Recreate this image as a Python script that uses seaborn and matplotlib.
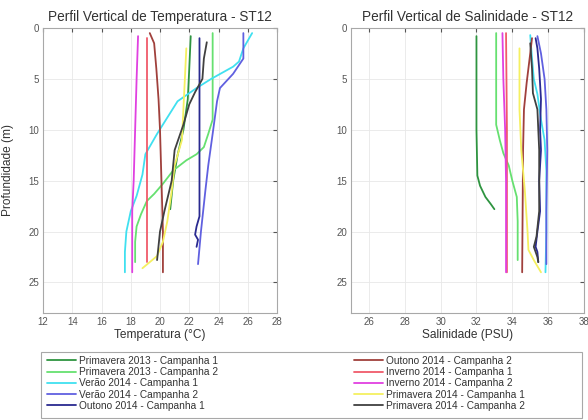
import numpy as np
import pandas as pd
import matplotlib
matplotlib.use('Agg')
import matplotlib.pyplot as plt
from matplotlib.lines import Line2D
from matplotlib.patches import Rectangle
import seaborn as sns

campanhas = ['Primavera 2013 - Campanha 1', 'Primavera 2013 - Campanha 2',
             'Verão 2014 - Campanha 1', 'Verão 2014 - Campanha 2',
             'Outono 2014 - Campanha 1', 'Outono 2014 - Campanha 2',
             'Inverno 2014 - Campanha 1', 'Inverno 2014 - Campanha 2',
             'Primavera 2014 - Campanha 1', 'Primavera 2014 - Campanha 2']
cores = ['#2e9440', '#66e070', '#40e0f0', '#6060e0', '#2a2a90',
         '#a0403c', '#f05a6a', '#e040e0', '#f5f060', '#404040']

# temperatura: profundidade (m) e valores (°C) por campanha
temp_z = [
    [0.8, 4, 7, 10, 12.5, 15, 17.8],
    [0.5, 9, 10.4, 11.7, 12.4, 13, 14, 15.3, 16.3, 17, 18.3, 19.5, 21, 23],
    [0.5, 2, 3.3, 3.8, 5, 5.9, 7.2, 10.4, 12.4, 14.4, 16.5, 18, 20, 22, 24],
    [0.5, 3, 4.5, 5.9, 7.2, 10.4, 13.5, 16, 20, 23.2],
    [1, 10, 18.5, 19.5, 20.3, 20.8, 21.5],
    [0.5, 1.5, 4, 7, 10, 15, 20, 24],
    [1, 10, 23],
    [0.8, 5, 10, 15, 18, 24],
    [2, 5, 8, 11, 13.5, 16, 19, 21, 22.4, 23, 23.6],
    [1.4, 3, 5, 6.3, 7.5, 9.5, 12, 15, 18, 20, 22.8],
]
temp_v = [
    [22.1, 22.0, 21.9, 21.6, 21.2, 20.9, 20.7],
    [23.6, 23.6, 23.3, 23.0, 22.5, 21.8, 20.9, 20.2, 19.6, 19.1, 18.7, 18.4, 18.3, 18.3],
    [26.3, 25.7, 25.4, 25.0, 23.5, 22.5, 21.2, 19.8, 19.0, 18.8, 18.4, 18.0, 17.7, 17.6, 17.6],
    [25.7, 25.7, 25.0, 24.1, 23.9, 23.6, 23.3, 23.1, 22.8, 22.6],
    [22.7, 22.7, 22.7, 22.5, 22.4, 22.6, 22.5],
    [19.3, 19.6, 19.75, 19.9, 20.0, 20.1, 20.2, 20.2],
    [19.1, 19.1, 19.1],
    [18.5, 18.4, 18.3, 18.2, 18.1, 18.1],
    [21.8, 21.7, 21.6, 21.5, 21.0, 20.8, 20.5, 20.2, 19.8, 19.3, 18.8],
    [23.2, 23.0, 22.9, 22.4, 22.0, 21.6, 21.0, 20.8, 20.3, 20.0, 19.8],
]

# salinidade: profundidade (m) e valores (PSU) por campanha
sal_z = [
    [0.8, 10, 14.5, 15.5, 16.6, 17.3, 17.8],
    [0.5, 9.5, 11, 12.3, 13.5, 15, 16.6, 19, 22.8],
    [0.7, 3, 5, 6.5, 9, 11, 14, 20, 24],
    [0.8, 2.5, 5, 8, 12, 18, 23.2],
    [1, 2, 4, 7, 10, 12, 15, 18, 20, 21.5, 22, 23],
    [1, 2.5, 5.4, 8, 12, 24],
    [0.5, 10, 24],
    [0.5, 5, 10, 15, 24],
    [2, 8, 12, 16, 20, 21.8, 22.8, 24],
    [1.5, 4, 6.4, 8, 12, 18, 20.5, 21.5, 22.5, 23],
]
sal_v = [
    [32.0, 32.0, 32.05, 32.2, 32.5, 32.8, 33.0],
    [33.1, 33.1, 33.3, 33.5, 33.8, 34.0, 34.25, 34.3, 34.3],
    [35.0, 35.1, 35.2, 35.4, 35.6, 35.8, 35.9, 35.9, 35.85],
    [35.4, 35.6, 35.8, 35.9, 35.95, 35.9, 35.9],
    [35.3, 35.4, 35.5, 35.6, 35.55, 35.6, 35.5, 35.55, 35.4, 35.3, 35.4, 35.45],
    [35.1, 35.0, 34.8, 34.65, 34.6, 34.55],
    [33.65, 33.7, 33.7],
    [33.45, 33.5, 33.6, 33.65, 33.65],
    [34.4, 34.4, 34.5, 34.7, 34.85, 34.9, 35.2, 35.6],
    [35.0, 35.1, 35.15, 35.4, 35.5, 35.5, 35.35, 35.2, 35.4, 35.45],
]


def to_long(zs, vs):
    rows = []
    for lab, z, v in zip(campanhas, zs, vs):
        for zi, vi in zip(z, v):
            rows.append((lab, zi, vi))
    return pd.DataFrame(rows, columns=['campanha', 'prof', 'valor'])


df_t = to_long(temp_z, temp_v)
df_s = to_long(sal_z, sal_v)

sns.set_style('whitegrid')
plt.rcParams['font.family'] = ['Liberation Sans', 'DejaVu Sans']

pal = dict(zip(campanhas, cores))
fig = plt.figure(figsize=(5.88, 4.2), dpi=100)
ax1 = fig.add_axes([43 / 588, 1 - 313 / 420, 234 / 588, 285 / 420])
ax2 = fig.add_axes([351 / 588, 1 - 313 / 420, 233 / 588, 285 / 420])

txt = '#333333'
for ax, df in ((ax1, df_t), (ax2, df_s)):
    sns.lineplot(data=df, x='valor', y='prof', hue='campanha', palette=pal,
                 sort=False, estimator=None, lw=1.3, legend=False, ax=ax)
    ax.set_ylim(28, 0)
    ax.set_yticks([0, 5, 10, 15, 20, 25])
    ax.grid(color='#e8e8e8', lw=0.6)
    for sp in ax.spines.values():
        sp.set_color('#a8a8a8')
        sp.set_linewidth(0.8)
    ax.tick_params(direction='in', length=3, top=True, right=True,
                   labelsize=7, colors='#555555', pad=3)

ax1.set_xlim(12, 28)
ax1.set_xticks(range(12, 29, 2))
ax2.set_xlim(25, 38)
ax2.set_xticks(range(26, 39, 2))

ax1.set_title('Perfil Vertical de Temperatura - ST12', fontsize=9.8, color=txt, pad=5)
ax2.set_title('Perfil Vertical de Salinidade - ST12', fontsize=9.8, color=txt, pad=5)
ax1.set_xlabel('Temperatura (°C)', fontsize=8.6, color=txt, labelpad=1)
ax2.set_xlabel('Salinidade (PSU)', fontsize=8.6, color=txt, labelpad=1)
ax1.set_ylabel('Profundidade (m)', fontsize=8.6, color=txt)
ax1.yaxis.set_label_coords(-0.125, 0.5)
ax2.set_ylabel('')

handles = [Line2D([], [], color=c, lw=1.3) for c in cores]
leg_kw = dict(loc='upper left', frameon=False, fontsize=7.3, borderpad=0,
              borderaxespad=0, handlelength=2.9, handletextpad=0.25,
              labelspacing=0.12, labelcolor=txt)
fig.legend(handles[:5], campanhas[:5], bbox_to_anchor=(47 / 588, 1 - 356 / 420), **leg_kw)
fig.legend(handles[5:], campanhas[5:], bbox_to_anchor=(354 / 588, 1 - 356 / 420), **leg_kw)
fig.patches.append(Rectangle((41 / 588, 1 - 418 / 420), 541 / 588, 66 / 420,
                             transform=fig.transFigure, fill=False,
                             edgecolor='#a8a8a8', lw=0.8))

plt.savefig('out.png', dpi=100)
plt.close()
